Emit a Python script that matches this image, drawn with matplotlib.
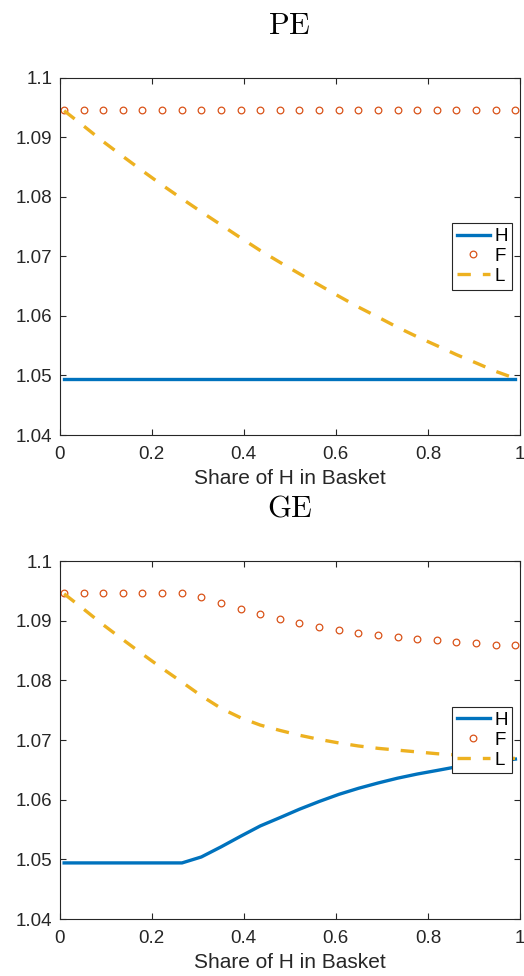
import numpy as np
import matplotlib.pyplot as plt

plt.rcParams['font.family'] = ['Liberation Sans', 'DejaVu Sans']
plt.rcParams['mathtext.fontset'] = 'cm'

# share of H in basket (grid)
share = [0.010, 0.053, 0.095, 0.138, 0.180, 0.223, 0.266, 0.308, 0.351, 0.394,
         0.436, 0.479, 0.521, 0.564, 0.607, 0.649, 0.692, 0.734, 0.777, 0.820,
         0.862, 0.905, 0.947, 0.990]

# partial equilibrium
pe_H = [1.0494] * 24
pe_F = [1.0947] * 24
pe_L = [1.0945, 1.0919, 1.0893, 1.0868, 1.0844, 1.0820, 1.0797, 1.0775, 1.0753, 1.0731,
        1.0710, 1.0690, 1.0671, 1.0652, 1.0633, 1.0615, 1.0598, 1.0581, 1.0565, 1.0550,
        1.0535, 1.0521, 1.0507, 1.0495]

# general equilibrium
ge_H = [1.0494, 1.0494, 1.0494, 1.0494, 1.0494, 1.0494, 1.0494, 1.0504, 1.0521, 1.0539,
        1.0556, 1.0570, 1.0584, 1.0597, 1.0609, 1.0619, 1.0628, 1.0636, 1.0643, 1.0649,
        1.0655, 1.0660, 1.0664, 1.0668]
ge_F = [1.0947, 1.0947, 1.0947, 1.0947, 1.0947, 1.0947, 1.0947, 1.0939, 1.0930, 1.0920,
        1.0911, 1.0903, 1.0896, 1.0890, 1.0885, 1.0880, 1.0876, 1.0873, 1.0869, 1.0867,
        1.0865, 1.0862, 1.0860, 1.0859]
ge_L = [1.0945, 1.0919, 1.0893, 1.0868, 1.0844, 1.0820, 1.0797, 1.0774, 1.0753, 1.0737,
        1.0725, 1.0716, 1.0708, 1.0701, 1.0695, 1.0690, 1.0686, 1.0683, 1.0680, 1.0677,
        1.0675, 1.0673, 1.0671, 1.0669]

xticks = [0, 0.2, 0.4, 0.6, 0.8, 1]
xticklabels = ['0', '0.2', '0.4', '0.6', '0.8', '1']
yticks = [1.04, 1.05, 1.06, 1.07, 1.08, 1.09, 1.1]
yticklabels = ['1.04', '1.05', '1.06', '1.07', '1.08', '1.09', '1.1']

fig = plt.figure(figsize=(5.24, 9.76), dpi=100)
ax1 = fig.add_axes([0.1136, 0.5543, 0.8788, 0.3658])
ax2 = fig.add_axes([0.1136, 0.0584, 0.8788, 0.3668])

panels = [(ax1, 'PE', pe_H, pe_F, pe_L), (ax2, 'GE', ge_H, ge_F, ge_L)]
for ax, title, h, f, l in panels:
    ax.plot(share, h, color='#0072BD', lw=2.4, label='H')
    ax.plot(share, f, 'o', color='#D95319', mfc='none', ms=4.8, mew=0.9, label='F')
    ax.plot(share, l, color='#EDB120', lw=2.4, dashes=(4.0, 3.6), label='L')
    ax.set_xlim(0, 1)
    ax.set_ylim(1.04, 1.1)
    ax.set_xticks(xticks, xticklabels)
    ax.set_yticks(yticks, yticklabels)
    ax.tick_params(direction='in', length=4, width=0.8, top=True, right=True,
                   labelsize=13.5, colors='#262626')
    ax.tick_params(axis='x', pad=8)
    ax.tick_params(axis='y', pad=5)
    for s in ax.spines.values():
        s.set_color('#262626')
        s.set_linewidth(0.8)
    ax.set_xlabel('Share of H in Basket', fontsize=15, color='#262626', labelpad=4)
    ax.set_title(r'$\mathrm{' + title + '}$', fontsize=22, pad=32)
    leg = ax.legend(loc='center right', bbox_to_anchor=(0.983, 0.5), borderaxespad=0,
                    fontsize=13.5, handlelength=1.8, handletextpad=0.2, borderpad=0.25,
                    labelspacing=0.15, fancybox=False, framealpha=1)
    leg.get_frame().set_edgecolor('#262626')
    leg.get_frame().set_linewidth(0.8)

fig.savefig('out.png', dpi=100)
